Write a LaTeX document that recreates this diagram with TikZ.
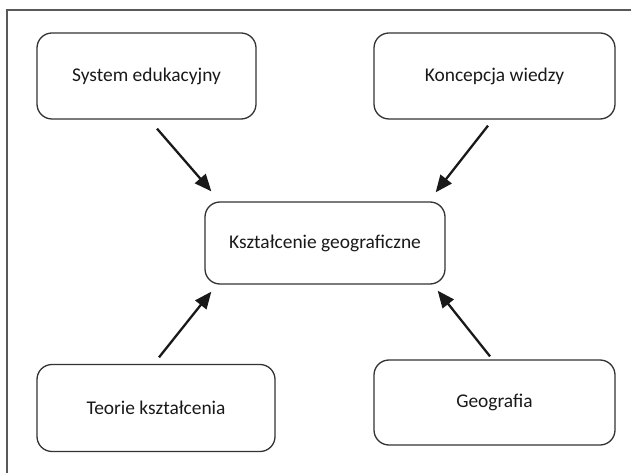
\documentclass[tikz,border=0pt]{standalone}
\usepackage{fontspec}
\setmainfont{Carlito}
\usetikzlibrary{arrows.meta}
\begin{document}
\begin{tikzpicture}[x=1bp,y=-1bp,
  box/.style={draw=black!80,line width=1.3bp,rounded corners=15bp,minimum width=#1,inner sep=0pt,font=\fontsize{19.5}{21}\selectfont,text=black!90},
  arr/.style={draw=black!90,line width=2.3bp,-{Triangle[length=17bp,width=14bp]}},
  frame/.style={draw=black!65,line width=1.3bp}]
\useasboundingbox (0,0) rectangle (631,473);
\draw[frame] (7,473) -- (7,10) -- (631,10);
\node[box=219bp,minimum height=86bp] (sys) at (146.5,76) {System edukacyjny};
\node[box=241bp,minimum height=86bp] (kw) at (494.5,76) {Koncepcja wiedzy};
\node[box=240bp,minimum height=82bp] (kg) at (325,243) {Kształcenie geograficzne};
\node[box=238bp,minimum height=87bp] (tk) at (156,408) {Teorie kształcenia};
\node[box=241bp,minimum height=85bp] (gf) at (494.5,402.5) {Geografia};
\draw[arr] ([shift={(10.5,9)}]sys.south) -- ([shift={(7,-10)}]kg.north west);
\draw[arr] ([shift={(-6.5,6)}]kw.south) -- ([shift={(-10,-9)}]kg.north east);
\draw[arr] ([shift={(3,-6.5)}]tk.north) -- ([shift={(7,7)}]kg.south west);
\draw[arr] ([shift={(-4.5,-3)}]gf.north) -- ([shift={(-8,6)}]kg.south east);
\end{tikzpicture}
\end{document}
